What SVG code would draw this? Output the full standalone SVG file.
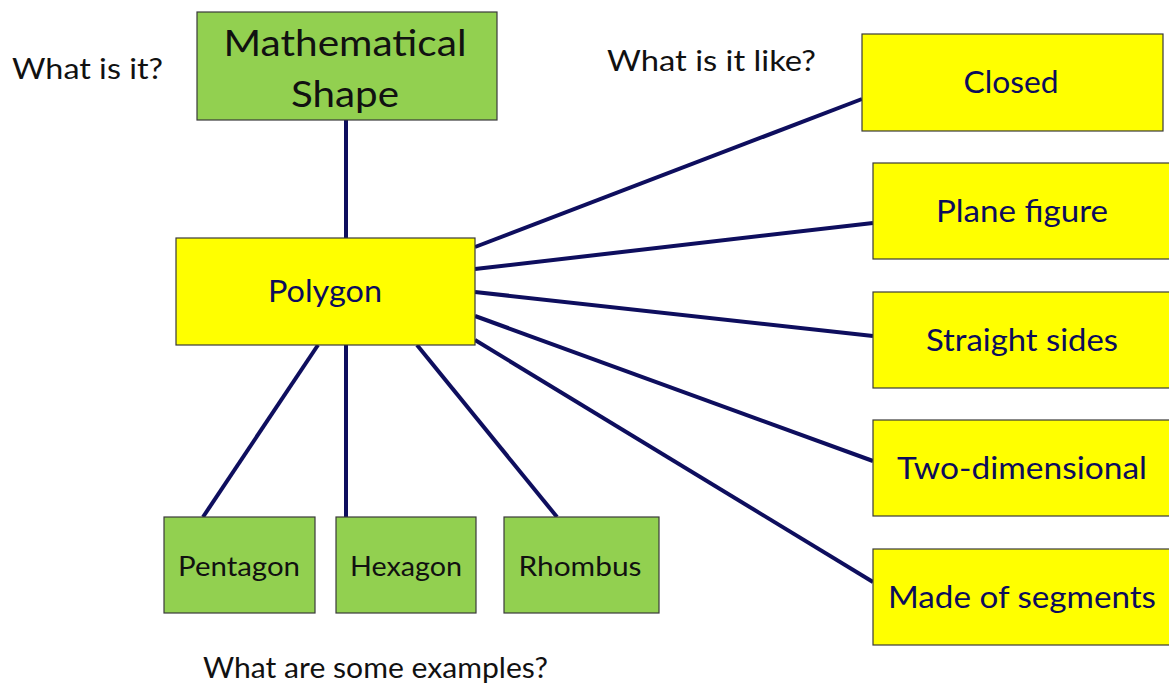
<svg xmlns="http://www.w3.org/2000/svg" width="1169" height="683" viewBox="0 0 1169 683">
<style>
.g{fill:#92D050;stroke:#3a3a3a;stroke-width:1.2}
.y{fill:#FFFF00;stroke:#3a3a3a;stroke-width:1.2}
.t{font-family:Lato,"Open Sans","Liberation Sans",sans-serif;text-anchor:middle}
.tb{fill:#111}
.tn{fill:#0C0C5C}
.q{font-family:Lato,"Open Sans","Liberation Sans",sans-serif;fill:#111;font-size:29px}
.c line{stroke:#0E0E5E;stroke-width:4}
</style>
<rect width="1169" height="683" fill="#fff"/>
<g class="c" id="connectors">
<line x1="346" y1="120" x2="346" y2="238"/>
<line x1="318" y1="345" x2="203" y2="517"/>
<line x1="346" y1="345" x2="346" y2="517"/>
<line x1="417" y1="345" x2="557" y2="517"/>
<line x1="475" y1="247" x2="862" y2="99"/>
<line x1="475" y1="269" x2="873" y2="223"/>
<line x1="475" y1="292" x2="873" y2="336"/>
<line x1="475" y1="316" x2="873" y2="461"/>
<line x1="475" y1="340" x2="873" y2="582"/>
</g>
<g id="mathematical-shape">
<rect class="g" x="197" y="12" width="300" height="108"/>
<text class="t tb" x="345" y="56" font-size="37" textLength="243" lengthAdjust="spacingAndGlyphs">Mathematical</text>
<text class="t tb" x="345" y="107" font-size="37" textLength="108" lengthAdjust="spacingAndGlyphs">Shape</text>
</g>
<g id="polygon">
<rect class="y" x="176" y="238" width="299" height="107"/>
<text class="t tn" x="325" y="302" font-size="31" textLength="114" lengthAdjust="spacingAndGlyphs">Polygon</text>
</g>
<g id="closed">
<rect class="y" x="862" y="34" width="301" height="97"/>
<text class="t tn" x="1011" y="93" font-size="31" textLength="95" lengthAdjust="spacingAndGlyphs">Closed</text>
</g>
<g id="plane-figure">
<rect class="y" x="873" y="163" width="300" height="96"/>
<text class="t tn" x="1022" y="222" font-size="31" textLength="172" lengthAdjust="spacingAndGlyphs">Plane figure</text>
</g>
<g id="straight-sides">
<rect class="y" x="873" y="292" width="300" height="96"/>
<text class="t tn" x="1022" y="351" font-size="31" textLength="192" lengthAdjust="spacingAndGlyphs">Straight sides</text>
</g>
<g id="two-dimensional">
<rect class="y" x="873" y="420" width="300" height="96"/>
<text class="t tn" x="1022" y="479" font-size="31" textLength="250" lengthAdjust="spacingAndGlyphs">Two-dimensional</text>
</g>
<g id="made-of-segments">
<rect class="y" x="873" y="549" width="300" height="96"/>
<text class="t tn" x="1022" y="608" font-size="31" textLength="268" lengthAdjust="spacingAndGlyphs">Made of segments</text>
</g>
<g id="pentagon">
<rect class="g" x="164" y="517" width="151" height="96"/>
<text class="t tb" x="239" y="576" font-size="27" textLength="122" lengthAdjust="spacingAndGlyphs">Pentagon</text>
</g>
<g id="hexagon">
<rect class="g" x="336" y="517" width="140" height="96"/>
<text class="t tb" x="406" y="576" font-size="27" textLength="112" lengthAdjust="spacingAndGlyphs">Hexagon</text>
</g>
<g id="rhombus">
<rect class="g" x="504" y="517" width="155" height="96"/>
<text class="t tb" x="580" y="576" font-size="27" textLength="123" lengthAdjust="spacingAndGlyphs">Rhombus</text>
</g>
<text class="q" x="12" y="79" textLength="151" lengthAdjust="spacingAndGlyphs">What is it?</text>
<text class="q" x="607" y="71" textLength="209" lengthAdjust="spacingAndGlyphs">What is it like?</text>
<text class="q" x="203" y="678" textLength="345" lengthAdjust="spacingAndGlyphs">What are some examples?</text>
</svg>
